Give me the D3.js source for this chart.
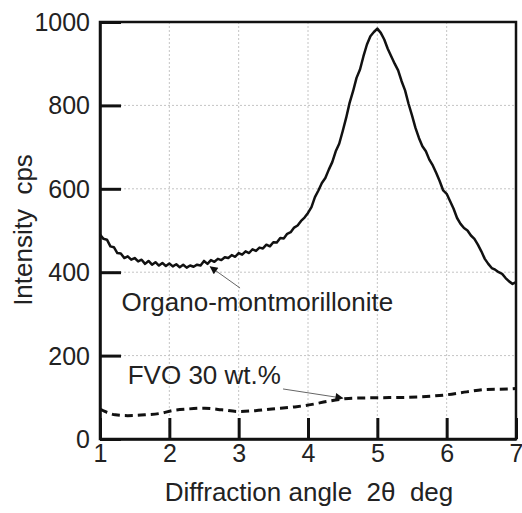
<!DOCTYPE html>
<html>
<head>
<meta charset="utf-8">
<title>XRD pattern</title>
<script src="https://cdn.jsdelivr.net/npm/d3@7"></script>
<style>
  body { margin: 0; background: #fff; }
  text { font-family: "Liberation Sans", Arial, sans-serif; fill: #222; }
  .grid line { stroke: #c4c4c4; stroke-width: 1; stroke-dasharray: 2,2; }
</style>
</head>
<body>
<div id="chart"></div>
<script>
  // diffraction angle (deg), organo-montmorillonite intensity (cps)
  const angleOrgano = [1.00,1.05,1.10,1.15,1.20,1.25,1.30,1.35,1.40,1.45,1.50,1.55,1.60,1.65,1.70,1.75,1.80,1.85,1.90,1.95,
    2.00,2.05,2.10,2.15,2.20,2.25,2.30,2.35,2.40,2.45,2.50,2.55,2.60,2.65,2.70,2.75,2.80,2.85,2.90,2.95,
    3.00,3.05,3.10,3.15,3.20,3.25,3.30,3.35,3.40,3.45,3.50,3.55,3.60,3.65,3.70,3.75,3.80,3.85,3.90,3.95,
    4.00,4.05,4.10,4.15,4.20,4.25,4.30,4.35,4.40,4.45,4.50,4.55,4.60,4.65,4.70,4.75,4.80,4.85,4.90,4.95,
    5.00,5.05,5.10,5.15,5.20,5.25,5.30,5.35,5.40,5.45,5.50,5.55,5.60,5.65,5.70,5.75,5.80,5.85,5.90,5.95,
    6.00,6.05,6.10,6.15,6.20,6.25,6.30,6.35,6.40,6.45,6.50,6.55,6.60,6.65,6.70,6.75,6.80,6.85,6.90,6.95,7.00];
  const intensityOrgano = [490,480,478,462,460,446,445,434,438,430,434,426,430,420,427,418,424,416,422,415,
    421,414,419,412,418,411,416,413,418,416,427,420,429,425,432,429,436,434,441,437,
    446,442,450,446,455,451,459,457,466,462,472,471,482,481,492,496,507,512,523,531,
    542,556,580,596,614,626,646,664,690,708,738,770,806,834,866,886,918,946,966,976,
    984,974,958,936,918,900,884,858,836,804,776,746,722,702,690,670,656,638,618,596,
    588,570,552,530,516,506,500,488,480,466,450,432,420,410,406,400,396,386,378,372,376];

  // FVO 30 wt.% composite
  const angleFVO = [1.00,1.07,1.22,1.40,1.65,1.89,2.04,2.27,2.51,2.76,2.99,3.24,3.48,3.81,4.06,4.27,4.46,4.65,5.04,5.43,5.80,6.00,6.29,6.58,6.91,7.00];
  const intensityFVO = [72,66,58,56,58,62,68,72,74,70,66,68,72,77,83,90,95,98,99,100,103,106,113,119,120,121];

  const xTicks = [1, 2, 3, 4, 5, 6, 7];
  const yTicks = [0, 200, 400, 600, 800, 1000];

  const width = 522, height = 513;
  const margin = { top: 22, right: 6, bottom: 74, left: 100 };
  const innerW = width - margin.left - margin.right;
  const innerH = height - margin.top - margin.bottom;
  const tickLen = 21;

  const svg = d3.select("#chart").append("svg")
    .attr("width", width)
    .attr("height", height);

  const defs = svg.append("defs");
  defs.append("marker")
    .attr("id", "arrow")
    .attr("viewBox", "0 0 10 10")
    .attr("refX", 9).attr("refY", 5)
    .attr("markerWidth", 10).attr("markerHeight", 8)
    .attr("markerUnits", "userSpaceOnUse")
    .attr("orient", "auto")
    .append("path")
    .attr("d", "M0,0L10,5L0,10z")
    .attr("fill", "#111");

  const g = svg.append("g").attr("transform", `translate(${margin.left},${margin.top})`);

  const x = d3.scaleLinear().domain([1, 7]).range([0, innerW]);
  const y = d3.scaleLinear().domain([0, 1000]).range([innerH, 0]);

  // grid
  g.append("g").attr("class", "grid")
    .selectAll("line").data(xTicks.slice(1, -1)).join("line")
    .attr("x1", d => x(d)).attr("x2", d => x(d))
    .attr("y1", 0).attr("y2", innerH);
  g.append("g").attr("class", "grid")
    .selectAll("line").data(yTicks.slice(1, -1)).join("line")
    .attr("x1", 0).attr("x2", innerW)
    .attr("y1", d => y(d)).attr("y2", d => y(d));

  // axes: labels outside, long inward ticks
  const xAxis = g.append("g")
    .attr("transform", `translate(0,${innerH})`)
    .call(d3.axisBottom(x).tickValues(xTicks).tickFormat(d3.format("d")).tickSizeInner(-tickLen).tickSizeOuter(0).tickPadding(5));
  const yAxis = g.append("g")
    .call(d3.axisLeft(y).tickValues(yTicks).tickFormat(d3.format("d")).tickSizeInner(-tickLen).tickSizeOuter(0).tickPadding(10));
  [xAxis, yAxis].forEach(a => {
    a.select(".domain").attr("stroke", "#111").attr("stroke-width", 2.5);
    a.selectAll(".tick line")
      .style("stroke", "#111")
      .style("stroke-width", "3px")
      .style("opacity", 1);
    a.selectAll("text").attr("font-size", 25).attr("fill", "#222")
      .style("font-family", "'Liberation Sans', Arial, sans-serif");
  });
  yAxis.selectAll("text").attr("dy", "0.34em");

  // frame
  g.append("rect")
    .attr("width", innerW).attr("height", innerH)
    .attr("fill", "none").attr("stroke", "#111").attr("stroke-width", 2.5);

  // curves
  g.append("path")
    .datum(d3.zip(angleFVO, intensityFVO))
    .attr("fill", "none")
    .attr("stroke", "#111")
    .attr("stroke-width", 3)
    .attr("stroke-dasharray", "8,5")
    .attr("d", d3.line().x(d => x(d[0])).y(d => y(d[1])).curve(d3.curveMonotoneX));

  g.append("path")
    .datum(d3.zip(angleOrgano, intensityOrgano))
    .attr("fill", "none")
    .attr("stroke", "#111")
    .attr("stroke-width", 2.5)
    .attr("stroke-linejoin", "round")
    .attr("d", d3.line().x(d => x(d[0])).y(d => y(d[1])));

  // annotations
  g.append("text")
    .attr("x", x(1.31)).attr("y", y(308))
    .attr("font-size", 26)
    .text("Organo-montmorillonite");
  g.append("line")
    .attr("x1", x(3.02)).attr("y1", y(362))
    .attr("x2", x(2.59)).attr("y2", y(413))
    .attr("stroke", "#666").attr("stroke-width", 1)
    .attr("marker-end", "url(#arrow)");

  g.append("text")
    .attr("x", x(1.40)).attr("y", y(132))
    .attr("font-size", 26)
    .text("FVO 30 wt.%");
  g.append("line")
    .attr("x1", x(3.64)).attr("y1", y(120))
    .attr("x2", x(4.50)).attr("y2", y(98))
    .attr("stroke", "#666").attr("stroke-width", 1)
    .attr("marker-end", "url(#arrow)");

  // axis titles
  svg.append("text")
    .attr("x", 309).attr("y", 501)
    .attr("text-anchor", "middle")
    .attr("font-size", 26)
    .attr("xml:space", "preserve")
    .text("Diffraction angle  2\u03b8  deg");

  svg.append("text")
    .attr("transform", "translate(32,230) rotate(-90)")
    .attr("text-anchor", "middle")
    .attr("font-size", 26)
    .attr("xml:space", "preserve")
    .text("Intensity  cps");
</script>
</body>
</html>
